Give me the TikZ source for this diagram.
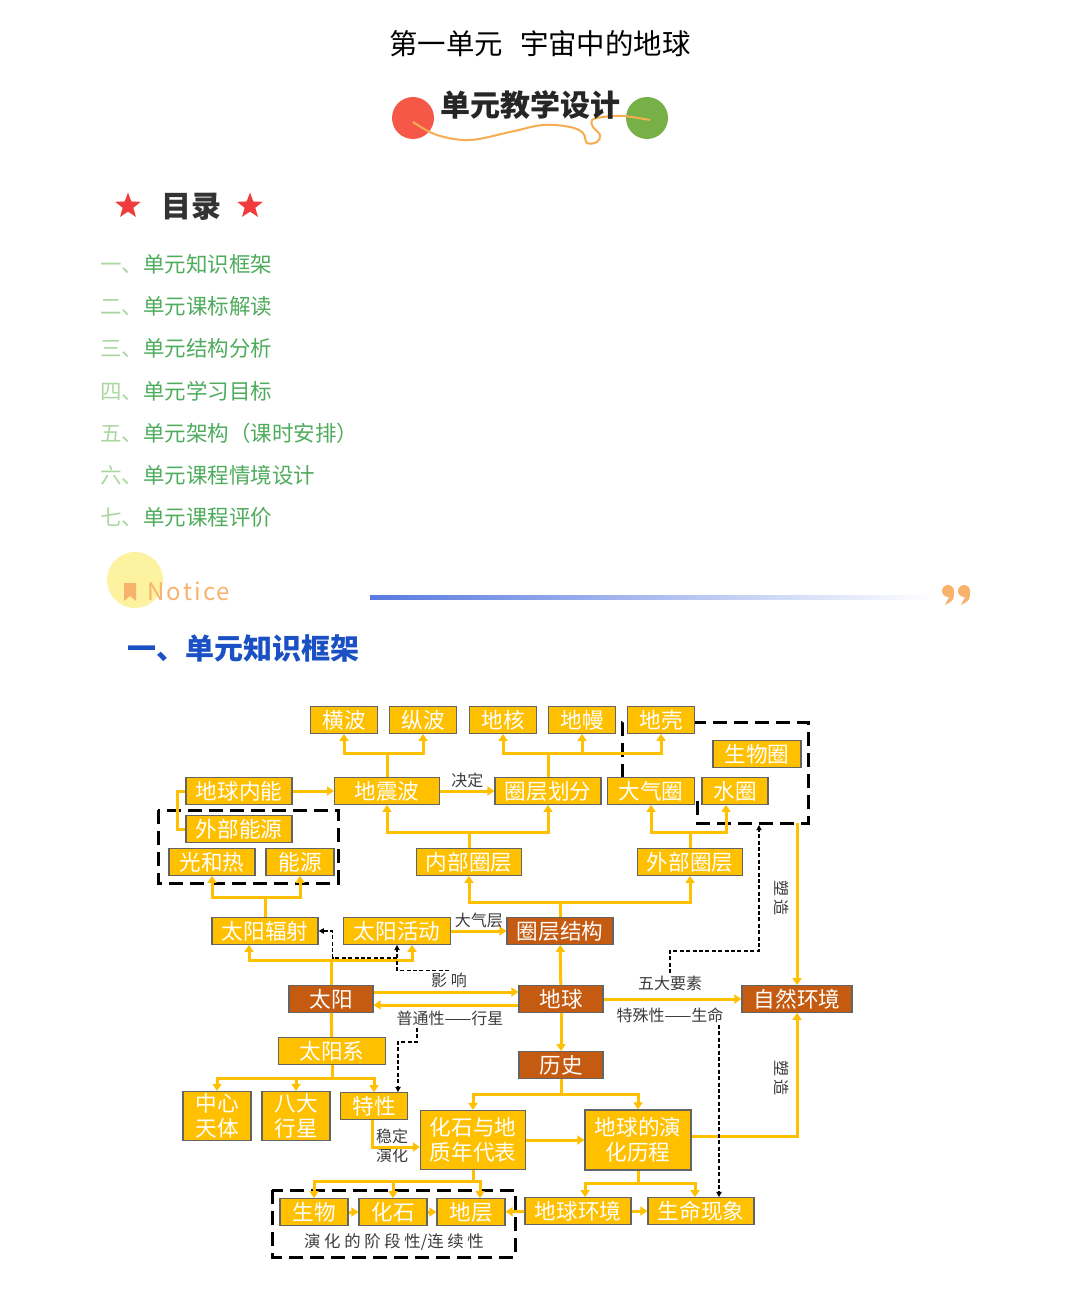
\documentclass[tikz,border=0pt]{standalone}
\usepackage{fontspec}
\setmainfont{Noto Sans CJK SC}
\usetikzlibrary{arrows.meta,shapes.geometric}
\definecolor{gold}{RGB}{255,192,0}
\definecolor{rust}{RGB}{197,90,17}
\definecolor{boxline}{RGB}{100,100,100}
\definecolor{labgray}{RGB}{60,60,60}
\definecolor{tocpale}{RGB}{170,215,160}
\definecolor{tocgreen}{RGB}{78,172,92}
\definecolor{dotred}{RGB}{246,88,72}
\definecolor{dotgreen}{RGB}{118,176,70}
\definecolor{wave}{RGB}{246,172,80}
\definecolor{starred}{RGB}{240,60,60}
\definecolor{noticeyellow}{RGB}{253,242,160}
\definecolor{noticeorange}{RGB}{249,178,107}
\definecolor{lineblue}{RGB}{88,122,224}
\definecolor{headblue}{RGB}{26,80,196}
\begin{document}
\begin{tikzpicture}[x=.5pt,y=-.5pt,
  box/.style={draw=boxline,line width=.6pt,fill=gold,text=white,inner sep=0pt,
    minimum height=13.3pt,font=\fontsize{10.8}{12.5}\selectfont,align=center},
  obox/.style={box,fill=rust},
  link/.style={draw=gold,line width=1.5pt},
  arr/.style={link,-{Triangle[width=4.5pt,length=3.5pt]}},
  note/.style={text=labgray,inner sep=1pt,font=\fontsize{8}{9.5}\selectfont,align=center},
  hint/.style={draw=black,line width=.7pt,dash pattern=on 2pt off 1.2pt,-{Triangle[width=2.6pt,length=2.6pt]}},
  group/.style={draw=black,line width=1.5pt,dash pattern=on 7pt off 3.5pt}]
  \fill[white] (0,0) rectangle (1080,1294);
  \useasboundingbox (0,0) rectangle (1080,1294);
  % header
  \node[font=\fontsize{14.2}{16}\selectfont] (title) at (540,44) {第一单元\hspace{.6em}宇宙中的地球};
  \fill[dotred] (413,118) circle (21);
  \fill[dotgreen] (647,118) circle (21);
  \draw[wave,line width=1pt] plot[smooth,tension=.6] coordinates {(413,122) (437,135) (470,140) (510,132) (543,125) (570,127) (583,133) (587,143) (597,142) (600,135) (593,127) (592,120) (603,117) (623,116) (650,120)};
  \node[font=\fontsize{15}{17}\selectfont\bfseries,text=black!85] (design) at (530,105) {单元教学设计};
  \node[star,star points=5,star point ratio=2.4,fill=starred,minimum size=13.5pt,inner sep=0pt] (starl) at (128,206) {};
  \node[star,star points=5,star point ratio=2.4,fill=starred,minimum size=13.5pt,inner sep=0pt] (starr) at (250,206) {};
  \node[font=\fontsize{15}{17}\selectfont\bfseries,text=black!80] (mulu) at (191,207) {目录};
  \foreach \i/\pre/\txt in {0/一/单元知识框架,1/二/单元课标解读,2/三/单元结构分析,3/四/单元学习目标,4/五/单元架构（课时安排）,5/六/单元课程情境设计,6/七/单元课程评价}
    \node[anchor=west,inner sep=0pt,text=tocgreen,font=\fontsize{10.75}{12}\selectfont] (toc\i) at (100,264+42.3*\i) {{\color{tocpale}\pre、}\txt};
  \fill[noticeyellow] (135,580) circle (28);
  \fill[noticeorange] (124,583) -- (136,583) -- (136,601) -- (130,596) -- (124,601) -- cycle;
  \node[anchor=west,inner sep=0pt,text=noticeorange,font=\fontsize{12}{13}\selectfont\addfontfeature{LetterSpace=9}] (notice) at (147,591) {Notice};
  \shade[left color=lineblue,right color=white] (370,595) rectangle (935,599);
  \foreach \px in {948,964} {
    \fill[noticeorange] (\px,591) circle (6);
    \fill[noticeorange] (\px+2,595) -- (\px+6,591) .. controls (\px+6,600) .. (\px-3,605) -- cycle;
  }
  \node[text=headblue,font=\fontsize{14.5}{16}\selectfont\bfseries] (heading) at (243,648) {一、单元知识框架};
  % dashed groups
  \draw[group] (158,810) rectangle (338,883);
  \draw[group] (622,778) -- (622,722) -- (808,722) -- (808,823) -- (697,823) -- (697,796);
  \draw[group] (272,1190) rectangle (515,1257);
  \node[note,font=\fontsize{8.2}{9.5}\selectfont] (stages) at (394,1242) {演 化 的 阶 段 性/连 续 性};
  % boxes
  \foreach \nm/\px/\py/\w/\txt in {hengbo/344/720/67/横波,zongbo/423/720/67/纵波,dihe/503/720/67/地核,
    diman/582/720/67/地幔,diqiao/661/720/67/地壳,shengwuquan/757/754/88/生物圈,neineng/239/791/106/地球内能,
    dizhenbo/387/791/105/地震波,huafen/548/791/106/圈层划分,daqiquan/651/791/87/大气圈,shuiquan/735/791/66/水圈,
    waineng/239/829/106/外部能源,guangre/212/862/86/光和热,nengyuan/300/862/68/能源,neiquan/469/862/105/内部圈层,
    waiquan/690/862/105/外部圈层,fushe/265/931/106/太阳辐射,huodong/397/931/107/太阳活动,taiyangxi/332/1051/107/太阳系,
    texing/374/1106/67/特性,shengwu/314/1212/68/生物,huashi/393/1212/68/化石,diceng/471/1212/68/地层,
    huanjing/578/1211/106/地球环境,shengming/701/1211/106/生命现象}
    \node[box,minimum width=\w*.5pt] (\nm) at (\px,\py) {\txt};
  \foreach \nm/\px/\py/\w/\txt in {jiegou/560/931/106/圈层结构,taiyang/331/999/84/太阳,diqiu/561/999/84/地球,
    ziran/797/999/110/自然环境,lishi/561/1065/84/历史}
    \node[obox,minimum width=\w*.5pt] (\nm) at (\px,\py) {\txt};
  \node[box,minimum width=34pt,minimum height=24.5pt] (zhongxin) at (217,1116) {中心\\天体};
  \node[box,minimum width=34pt,minimum height=24.5pt] (bada) at (296,1116) {八大\\行星};
  \node[box,minimum width=52.5pt,minimum height=29.5pt] (nianbiao) at (473,1140) {化石与地\\质年代表};
  \node[box,minimum width=53pt,minimum height=30pt] (licheng) at (638,1140) {地球的演\\化历程};
  % labels
  \node[note] (yingxiang) at (449,980) {影 响};
  \node[note] (putong) at (450,1018) {普通性——行星};
  \node[note] (wuda) at (670,983) {五大要素};
  \node[note] (teshu) at (670,1015) {特殊性——生命};
  \node[note] (wending) at (392,1146) {稳定\\演化};
  \node[note,rotate=-90] (suzao1) at (782,898) {塑 造};
  \node[note,rotate=-90] (suzao2) at (782,1078) {塑 造};
  \coordinate (qbot) at (797,823);
  % connectors
  \draw[arr] (dizhenbo.north) -- ++(0,-24) -| (hengbo.south);
  \draw[arr] (dizhenbo.north) -- ++(0,-24) -| (zongbo.south);
  \draw[arr] (huafen.north) -- ++(0,-24) -| (dihe.south);
  \draw[arr] (huafen.north) -- ++(0,-24) -| (diman.south);
  \draw[arr] (huafen.north) -- ++(0,-24) -| (diqiao.south);
  \draw[arr] (neineng) -- (dizhenbo);
  \draw[link] (neineng.west) -- ++(-8,0) |- (waineng.west);
  \draw[arr] (dizhenbo) -- node[note,above]{决定} (huafen);
  \draw[arr] (neiquan.north) -- ++(0,-16) -| (dizhenbo.south);
  \draw[arr] (neiquan.north) -- ++(0,-16) -| (huafen.south);
  \draw[arr] (waiquan.north) -- ++(0,-16) -| (daqiquan.south);
  \draw[arr] (waiquan.north) -- ++(0,-16) -| ([xshift=-4.5pt]shuiquan.south);
  \draw[arr] (jiegou.north) -- ++(0,-15) -| (neiquan.south);
  \draw[arr] (jiegou.north) -- ++(0,-15) -| (waiquan.south);
  \draw[arr] (fushe.north) -- ++(0,-20) -| (guangre.south);
  \draw[arr] (fushe.north) -- ++(0,-20) -| (nengyuan.south);
  \draw[arr] (taiyang.north) -- ++(0,-25) -| ([xshift=-8pt]fushe.south);
  \draw[arr] (taiyang.north) -- ++(0,-25) -| ([xshift=7.5pt]huodong.south);
  \draw[arr] (huodong) -- node[note,above]{大气层} (jiegou);
  \draw[arr] ([yshift=3.5pt]taiyang.east) -- ([yshift=3.5pt]diqiu.west);
  \draw[arr] ([yshift=-3pt]diqiu.west) -- ([yshift=-3pt]taiyang.east);
  \draw[arr] (diqiu) -- (jiegou);
  \draw[arr] (diqiu) -- (ziran);
  \draw[arr] (diqiu) -- (lishi);
  \draw[link] (taiyang) -- (taiyangxi);
  \draw[arr] (taiyangxi.south) -- ++(0,14) -| (zhongxin.north);
  \draw[arr] (taiyangxi.south) -- ++(0,14) -| (bada.north);
  \draw[arr] (taiyangxi.south) -- ++(0,14) -| (texing.north);
  \draw[arr] ([xshift=-1pt]texing.south) |- ([yshift=-3.5pt]nianbiao.west);
  \draw[arr] (lishi.south) -- ++(0,16) -| (nianbiao.north);
  \draw[arr] (lishi.south) -- ++(0,16) -| (licheng.north);
  \draw[arr] (nianbiao) -- (licheng);
  \draw[arr] (nianbiao.south) -- ++(0,11) -| (shengwu.north);
  \draw[arr] (nianbiao.south) -- ++(0,11) -| (huashi.north);
  \draw[arr] (nianbiao.south) -- ++(0,11) -| ([xshift=4.5pt]diceng.north);
  \draw[arr] (shengwu) -- (huashi);
  \draw[arr] (huashi) -- (diceng);
  \draw[arr] (huanjing) -- (diceng);
  \draw[arr] (huanjing) -- (shengming);
  \draw[arr] (licheng.south) -- ++(0,13) -| ([xshift=3.5pt]huanjing.north);
  \draw[arr] (licheng.south) -- ++(0,13) -| ([xshift=-3pt]shengming.north);
  \draw[arr] ([yshift=2pt]licheng.east) -| (ziran.south);
  \draw[arr] (qbot) -- (ziran.north);
  % dashed hints
  \draw[hint] (wuda.north) |- (759,951) -- (759,825);
  \draw[hint] ([xshift=24.5pt]teshu.south) -- ([xshift=9pt]shengming.north);
  \draw[hint] (yingxiang.north) -| (huodong.south);
  \draw[hint] (397,958) -| ([xshift=7pt]fushe.east) -- (fushe.east);
  \draw[hint] ([xshift=-16.5pt]putong.south) -- ++(0,14) -| ([xshift=12pt]texing.north);
\end{tikzpicture}
\end{document}
